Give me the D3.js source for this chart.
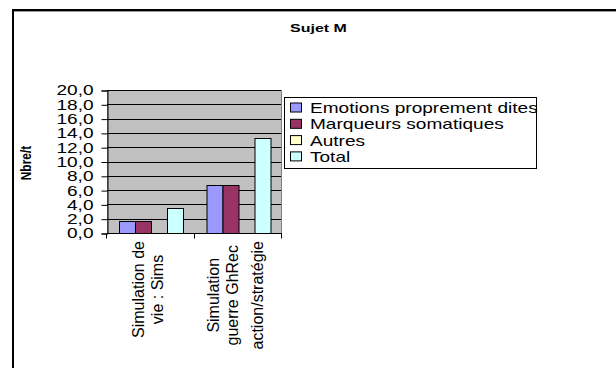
<!DOCTYPE html>
<html>
<head>
<meta charset="utf-8">
<script src="https://cdn.jsdelivr.net/npm/d3@7"></script>
<style>
  html, body { margin: 0; padding: 0; background: #fff; }
  svg { display: block; font-family: "Liberation Sans", Arial, sans-serif; }
</style>
</head>
<body>
<svg id="chart" width="616" height="368"></svg>
<script>
// Data
const categories = ["Simulation de vie : Sims", "Simulation guerre GhRec action/stratégie"];
const categoryLines = [["Simulation de", "vie : Sims"], ["Simulation", "guerre GhRec", "action/stratégie"]];
const seriesNames = ["Emotions proprement dites", "Marqueurs somatiques", "Autres", "Total"];
const emotions = [1.7, 6.7];
const marqueurs = [1.7, 6.7];
const autres = [0, 0];
const total = [3.5, 13.3];
const yTicks = [0, 2, 4, 6, 8, 10, 12, 14, 16, 18, 20];
const title = "Sujet M";
const yTitle = "Nbre/t";

const seriesValues = [emotions, marqueurs, autres, total];

const svg = d3.select("#chart");
const W = 616, H = 368;
const plot = { left: 107, right: 282, top: 90, bottom: 233 };

// Widen horizontal text the way the original renderer does
function stretch(sel, k) {
  sel.each(function () {
    const len = this.getComputedTextLength();
    d3.select(this).attr("textLength", len * k).attr("lengthAdjust", "spacingAndGlyphs");
  });
}

svg.append("rect").attr("width", W).attr("height", H).attr("fill", "#fff");

// Chart frame (left and top edges)
svg.append("path")
  .attr("d", `M13,${H} V10 H${W}`)
  .attr("fill", "none").attr("stroke", "#000").attr("stroke-width", 2);
svg.append("line")
  .attr("x1", 14).attr("x2", W).attr("y1", 11.5).attr("y2", 11.5)
  .attr("stroke", "#999");

const x = d3.scaleBand().domain(categories).range([plot.left, plot.right]).paddingInner(0).paddingOuter(0);
const xs = d3.scaleBand().domain(seriesNames).range([0, x.bandwidth()]).paddingInner(0).paddingOuter(0.75);
const y = d3.scaleLinear().domain([0, 20]).range([plot.bottom, plot.top]);
const color = d3.scaleOrdinal().domain(seriesNames).range(["#9999FF", "#993366", "#FFFFCC", "#CCFFFF"]);

// Plot area
svg.append("rect")
  .attr("x", plot.left + 0.5).attr("y", plot.top + 0.5)
  .attr("width", plot.right - plot.left - 1).attr("height", plot.bottom - plot.top)
  .attr("fill", "#C0C0C0").attr("stroke", "#808080");

// Gridlines
svg.append("g").selectAll("line").data(yTicks.filter(d => d > 0)).join("line")
  .attr("x1", plot.left).attr("x2", plot.right - 1)
  .attr("y1", d => Math.round(y(d)) + 0.5).attr("y2", d => Math.round(y(d)) + 0.5)
  .attr("stroke", "#000");

// Bars
const rows = categories.map((c, i) => seriesNames.map((s, j) => ({ cat: c, series: s, value: seriesValues[j][i] })));
svg.append("g").selectAll("g").data(rows).join("g")
  .attr("transform", d => `translate(${x(d[0].cat)},0)`)
  .selectAll("rect").data(d => d).join("rect")
  .attr("x", d => Math.round(xs(d.series)) + 0.5)
  .attr("y", d => Math.round(y(d.value)) + 0.5)
  .attr("width", Math.round(xs.bandwidth()))
  .attr("height", d => Math.round(y(0)) - Math.round(y(d.value)))
  .attr("fill", d => color(d.series))
  .attr("stroke", "#000");

// Y axis
const yAxis = svg.append("g")
  .attr("transform", `translate(${plot.left + 0.5},0.5)`)
  .call(d3.axisLeft(y).tickValues(yTicks).tickSize(6).tickPadding(8)
    .tickFormat(d => d3.format(".1f")(d).replace(".", ",")));
yAxis.select(".domain").attr("stroke", "#000");
yAxis.selectAll(".tick line").attr("stroke", "#000");
yAxis.selectAll(".tick text")
  .attr("font-size", 14).attr("fill", "#000")
  .attr("font-family", "'Liberation Sans', Arial, sans-serif")
  .call(stretch, 1.36);

// X axis with ticks at category boundaries
const xAxis = svg.append("g").attr("transform", `translate(0,${plot.bottom + 0.5})`);
xAxis.append("line").attr("x1", plot.left).attr("x2", plot.right).attr("stroke", "#000");
const edges = categories.map(c => x(c)).concat([x.range()[1]]);
xAxis.selectAll("line.edge").data(edges).join("line").attr("class", "edge")
  .attr("x1", d => Math.round(d) - 0.5).attr("x2", d => Math.round(d) - 0.5)
  .attr("y1", 0).attr("y2", 5).attr("stroke", "#000");

// Category labels, rotated, one block per category
const labelTop = 241;
categoryLines.forEach((lines, i) => {
  const cx = x(categories[i]) + x.bandwidth() / 2;
  const g = svg.append("g");
  const t = g.append("text")
    .attr("font-size", 16).attr("fill", "#000").attr("text-anchor", "middle");
  const lh = 25;
  lines.forEach((ln, k) => {
    t.append("tspan").attr("x", 0).attr("y", (k - (lines.length - 1) / 2) * lh).text(ln);
  });
  let maxLen = 0;
  t.selectAll("tspan").each(function () { maxLen = Math.max(maxLen, this.getComputedTextLength()); });
  const cy = labelTop + maxLen / 2;
  // local y (line offset) points to page +x after rotation
  g.attr("transform", `translate(${cx},${cy}) rotate(-90)`);
  t.attr("dy", "0.35em");
});

// Y axis title
svg.append("text")
  .attr("transform", `translate(26,163) scale(1.2,1) rotate(-90)`)
  .attr("text-anchor", "middle").attr("dy", "0.35em")
  .attr("font-size", 12).attr("font-weight", "bold").attr("fill", "#000")
  .text(yTitle);

// Title
svg.append("text")
  .attr("x", 318.5).attr("y", 31.5)
  .attr("text-anchor", "middle")
  .attr("font-size", 11).attr("font-weight", "bold").attr("fill", "#000")
  .text(title)
  .call(stretch, 1.45);

// Legend
const legend = svg.append("g");
legend.append("rect")
  .attr("x", 284.5).attr("y", 97.5).attr("width", 252).attr("height", 71)
  .attr("fill", "#fff").attr("stroke", "#000");
const rowH = 16.3;
const items = legend.selectAll("g.item").data(seriesNames).join("g").attr("class", "item")
  .attr("transform", (d, i) => `translate(0,${107.5 + i * rowH})`);
items.append("rect")
  .attr("x", 290.5).attr("y", -4.5).attr("width", 11).attr("height", 9)
  .attr("fill", d => color(d)).attr("stroke", "#000");
items.append("text")
  .attr("x", 310).attr("y", 5.5)
  .attr("font-size", 15).attr("fill", "#000")
  .text(d => d)
  .call(stretch, 1.27);
</script>
</body>
</html>
